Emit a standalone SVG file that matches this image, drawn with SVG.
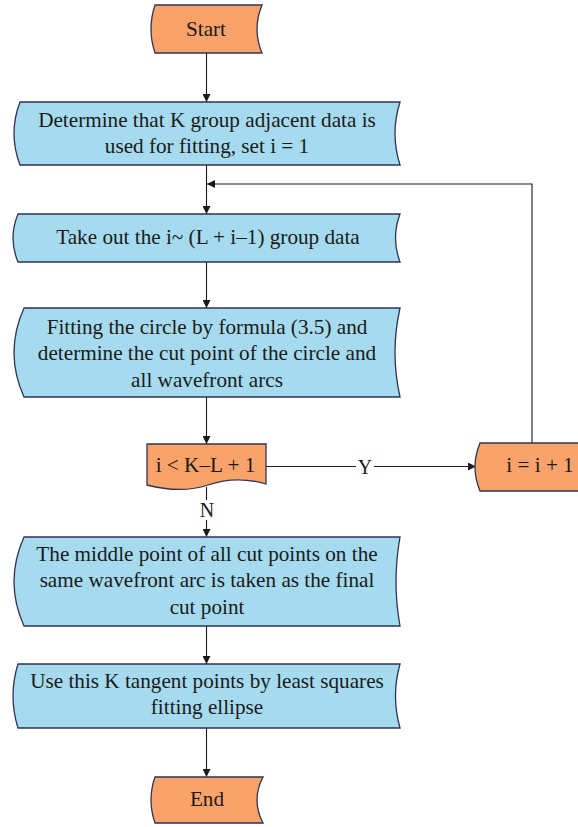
<svg xmlns="http://www.w3.org/2000/svg" width="578" height="827" viewBox="0 0 578 827">
<defs>
<style>
.term{fill:#F9A36B;stroke:#2E3355;stroke-width:1.3}
.proc{fill:#A5DAEF;stroke:#2E3355;stroke-width:1.3}
.t{font-family:"Liberation Serif","Times New Roman",serif;font-size:21.2px;fill:#1a1a1a;text-anchor:middle}
.c{fill:none;stroke:#1a1a1a;stroke-width:1.1}
.a{marker-end:url(#ah)}
</style>
<marker id="ah" viewBox="0 0 10 10" refX="10" refY="5" markerWidth="8" markerHeight="8" markerUnits="userSpaceOnUse" orient="auto">
<path d="M0,0 L10,5 L0,10 Z" fill="#1a1a1a"/>
</marker>
</defs>
<rect width="578" height="827" fill="#ffffff"/>
<g id="connectors">
<line class="c a" x1="206.5" y1="53" x2="206.5" y2="102"/>
<line class="c a" x1="206.5" y1="165" x2="206.5" y2="214"/>
<polyline class="c a" points="532,443 532,184 207,184"/>
<line class="c a" x1="206.5" y1="262" x2="206.5" y2="308"/>
<line class="c a" x1="206.5" y1="397" x2="206.5" y2="444"/>
<line class="c" x1="266" y1="466.5" x2="356" y2="466.5"/>
<line class="c a" x1="374" y1="466.5" x2="476" y2="466.5"/>
<line class="c" x1="206.5" y1="487" x2="206.5" y2="500"/>
<line class="c a" x1="206.5" y1="520" x2="206.5" y2="537"/>
<line class="c a" x1="206.5" y1="626" x2="206.5" y2="664"/>
<line class="c a" x1="206.5" y1="728" x2="206.5" y2="777"/>
<text class="t" x="365" y="473.5" style="font-size:20px">Y</text>
<text class="t" x="207" y="517" style="font-size:20px">N</text>
</g>
<g id="start">
<path class="term" d="M155,5 L262,5 Q252,29 262,53 L155,53 Q147,29 155,5 Z"/>
<text class="t" x="206" y="36">Start</text>
</g>
<g id="determine">
<path class="proc" d="M20,102 L400,102 Q390,133.5 400,165 L20,165 Q8,133.5 20,102 Z"/>
<text class="t" x="207" y="126.5">Determine that K group adjacent data is</text>
<text class="t" x="207" y="153">used for fitting, set i = 1</text>
</g>
<g id="takeout">
<path class="proc" d="M18,214 L400,214 Q391,238 400,262 L18,262 Q8,238 18,214 Z"/>
<text class="t" x="208" y="244">Take out the i~ (L + i–1) group data</text>
</g>
<g id="fitting">
<path class="proc" d="M24,308 L400,308 Q390,352.5 400,397 L24,397 Q4,352.5 24,308 Z"/>
<text class="t" x="207" y="333.5">Fitting the circle by formula (3.5) and</text>
<text class="t" x="207" y="360">determine the cut point of the circle and</text>
<text class="t" x="207" y="386.5">all wavefront arcs</text>
</g>
<g id="decision">
<path class="term" d="M147,444 L266,444 L266,484 C246,478 228,478 208,485 C190,491 170,491 147,485 Z"/>
<text class="t" x="205.5" y="472">i &lt; K–L + 1</text>
</g>
<g id="increment">
<path class="term" d="M480,443 L600,443 L600,491 L480,491 Q470,467 480,443 Z"/>
<text class="t" x="540" y="472">i = i + 1</text>
</g>
<g id="middle">
<path class="proc" d="M24,537 L400,537 Q392,581.5 400,626 L24,626 Q4,581.5 24,537 Z"/>
<text class="t" x="207" y="560.5">The middle point of all cut points on the</text>
<text class="t" x="207" y="587">same wavefront arc is taken as the final</text>
<text class="t" x="207" y="613.5">cut point</text>
</g>
<g id="lsq">
<path class="proc" d="M18,664 L400,664 Q391,696 400,728 L18,728 Q8,696 18,664 Z"/>
<text class="t" x="207" y="687.5">Use this K tangent points by least squares</text>
<text class="t" x="207" y="714">fitting ellipse</text>
</g>
<g id="end">
<path class="term" d="M155,777 L263,777 Q251,800 263,823 L155,823 Q147,800 155,777 Z"/>
<text class="t" x="207" y="806">End</text>
</g>
</svg>
